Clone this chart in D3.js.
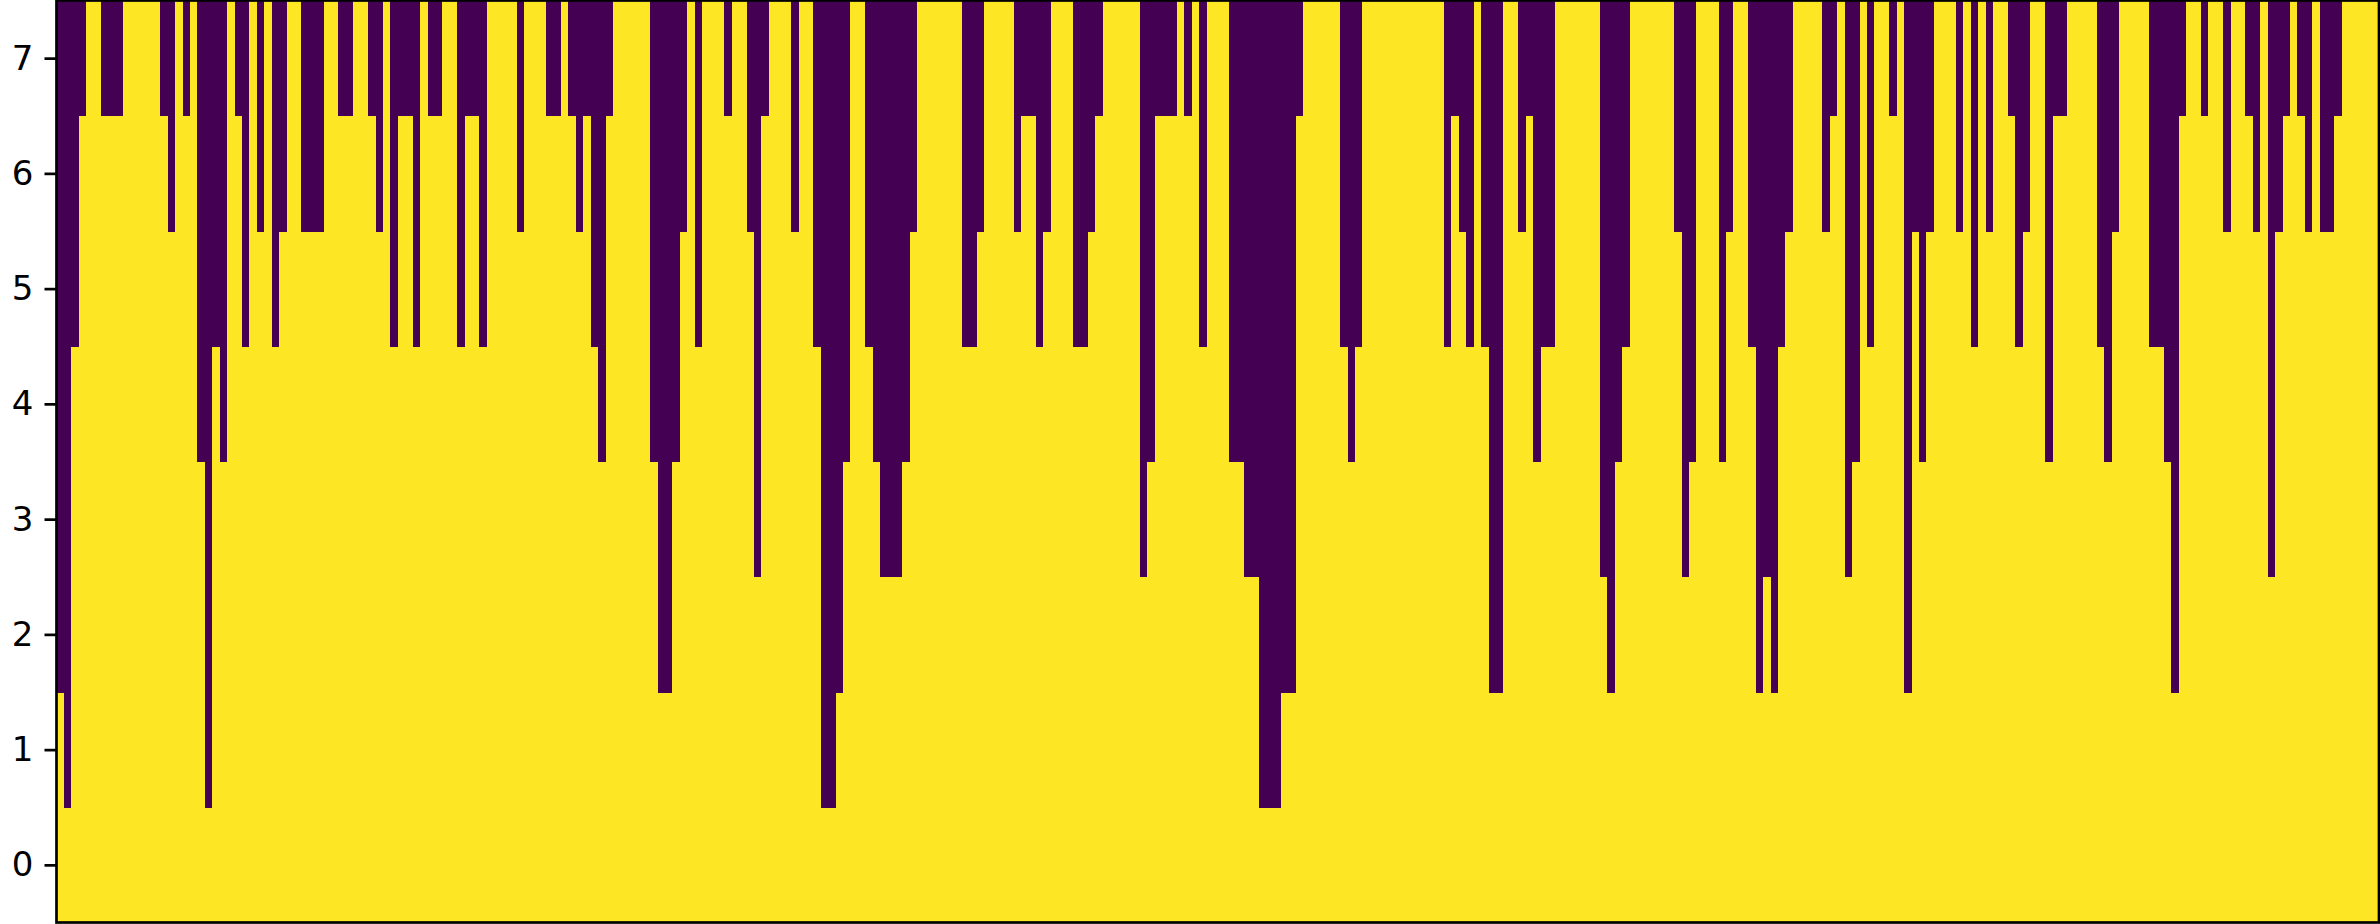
<!DOCTYPE html>
<html>
<head>
<meta charset="utf-8">
<script src="https://d3js.org/d3.v7.min.js"></script>
<style>
  html, body { margin: 0; padding: 0; background: #ffffff; }
  svg { display: block; }
</style>
</head>
<body>
<div id="chart"></div>
<script>
// Number of yellow (value 1) cells counted from row 0 upward in each column (8 = whole column yellow)
const levels = [
  2,1,5,7,8,8,7,7,7,8, 8,8,8,8,7,6,8,7,8,4,
  1,5,4,8,7,5,8,6,8,5, 6,8,8,6,6,6,8,8,7,7,
  8,8,7,6,8,5,7,7,5,8, 7,7,8,8,5,7,7,5,8,8,
  8,8,6,8,8,8,7,7,8,7, 6,7,5,4,7,8,8,8,8,8,
  4,2,2,4,6,8,5,8,8,8, 7,8,8,6,3,7,8,8,8,6,
  8,8,5,1,1,2,4,8,8,5, 4,3,3,3,4,6,8,8,8,8,
  8,8,5,5,6,8,8,8,8,6, 7,7,5,6,8,8,8,5,5,6,
  7,8,8,8,8,8,3,4,7,7, 7,8,7,8,5,8,8,8,4,4,
  3,3,1,1,1,2,2,7,8,8, 8,8,8,5,4,5,8,8,8,8,
  8,8,8,8,8,8,8,5,7,6, 5,8,5,2,2,8,8,6,7,4,
  5,5,8,8,8,8,8,8,3,2, 4,5,8,8,8,8,8,8,6,3,
  4,8,8,8,4,6,8,8,5,2, 3,2,5,6,8,8,8,8,6,7,
  8,3,4,8,5,8,8,7,8,2, 6,4,6,8,8,8,6,8,5,8,
  6,8,8,7,5,6,8,8,4,7, 7,8,8,8,8,5,4,6,8,8,
  8,8,5,5,4,2,7,8,8,7, 8,8,6,8,8,7,6,8,3,6,
  7,8,7,6,8,6,6,7,8,8, 8,8,8
];
const rows = [0, 1, 2, 3, 4, 5, 6, 7];
const yTicks = [0, 1, 2, 3, 4, 5, 6, 7];
const colorLow = "#440154";
const colorHigh = "#fde725";

const W = 2380, H = 924;
const margin = { left: 56.5, right: 1, top: 0.5, bottom: 1.5 };

const svg = d3.select("#chart").append("svg")
  .attr("width", W).attr("height", H);

const cols = d3.range(levels.length);
const x = d3.scaleBand().domain(cols).range([margin.left, W - margin.right]).padding(0);
const y = d3.scaleLinear().domain([-0.5, 7.5]).range([H - margin.bottom, margin.top]);

const cells = [];
cols.forEach(c => rows.forEach(r => cells.push({ c, r, v: r < levels[c] ? 1 : 0 })));

svg.append("g")
  .attr("shape-rendering", "crispEdges")
  .selectAll("rect")
  .data(cells)
  .join("rect")
  .attr("x", d => x(d.c))
  .attr("width", x.bandwidth() + 0.6)
  .attr("y", d => y(d.r + 0.5))
  .attr("height", d => y(d.r - 0.5) - y(d.r + 0.5) + 0.6)
  .attr("fill", d => d.v ? colorHigh : colorLow);

// Frame (spines)
svg.append("rect")
  .attr("x", margin.left).attr("y", margin.top)
  .attr("width", W - margin.right - margin.left)
  .attr("height", H - margin.bottom - margin.top)
  .attr("fill", "none").attr("stroke", "#000").attr("stroke-width", 2.7);

// Y axis
const yAxis = d3.axisLeft(y).tickValues(yTicks).tickFormat(d3.format("d"))
  .tickSizeInner(12).tickSizeOuter(0).tickPadding(11);
const gy = svg.append("g").attr("transform", `translate(${margin.left},0)`).call(yAxis);
gy.select(".domain").remove();
gy.selectAll(".tick line").attr("stroke", "#000").attr("stroke-width", 2.7);
gy.selectAll(".tick text")
  .attr("fill", "#000")
  .style("font-family", "'DejaVu Sans', sans-serif")
  .style("font-size", "34px");
</script>
</body>
</html>
